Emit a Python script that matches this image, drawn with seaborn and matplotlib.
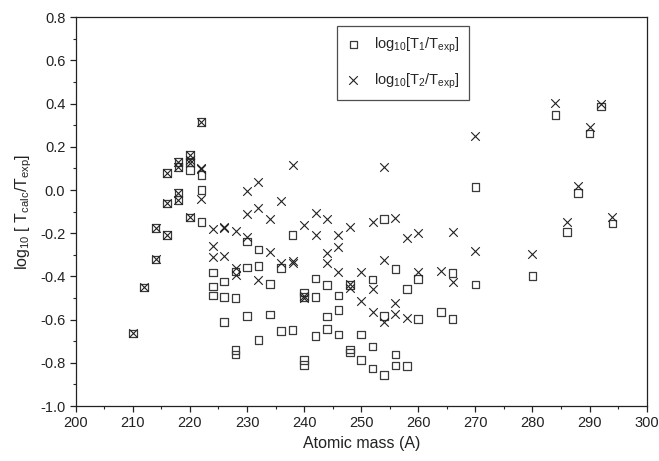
import matplotlib
matplotlib.use("Agg")
import matplotlib.pyplot as plt
import seaborn as sns
import pandas as pd
from matplotlib.ticker import MultipleLocator

# ---- data ----
t1_mass = [210, 212, 214, 214, 216, 216, 216, 218, 218, 218, 218,
           220, 220, 220, 220, 222, 222, 222, 222,
           224, 224, 224, 226, 226, 226, 228, 228, 228, 228,
           230, 230, 230, 232, 232, 232, 234, 234, 236, 236,
           238, 238, 240, 240, 240, 240, 242, 242, 242,
           244, 244, 244, 246, 246, 246, 248, 248, 248,
           250, 250, 252, 252, 252, 254, 254, 254,
           256, 256, 256, 258, 258, 260, 260, 264, 266, 266,
           270, 270, 280, 284, 286, 288, 290, 292, 294]
t1_val = [-0.664, -0.451, -0.177, -0.321, 0.080, -0.062, -0.208, 0.131, 0.108, -0.012, -0.046,
          0.162, 0.131, 0.093, -0.127, 0.316, 0.069, 0.000, -0.147,
          -0.381, -0.446, -0.488, -0.424, -0.494, -0.612, -0.378, -0.500, -0.741, -0.761,
          -0.239, -0.358, -0.582, -0.275, -0.352, -0.694, -0.435, -0.576, -0.360, -0.653,
          -0.208, -0.648, -0.475, -0.494, -0.787, -0.810, -0.409, -0.494, -0.676,
          -0.440, -0.586, -0.644, -0.489, -0.556, -0.668, -0.440, -0.738, -0.753,
          -0.668, -0.787, -0.414, -0.725, -0.826, -0.134, -0.582, -0.856,
          -0.366, -0.761, -0.813, -0.458, -0.815, -0.412, -0.597, -0.566, -0.383, -0.597,
          0.015, -0.437, -0.397, 0.347, -0.193, -0.015, 0.262, 0.386, -0.154]

t2_mass = [210, 212, 214, 214, 216, 216, 216, 218, 218, 218, 218,
           220, 220, 220, 220, 222, 222, 222, 222,
           224, 224, 224, 226, 226, 226, 228, 228, 228,
           230, 230, 230, 232, 232, 232, 234, 234, 236, 236,
           238, 238, 238, 240, 240, 240, 242, 242,
           244, 244, 244, 246, 246, 246, 248, 248, 248,
           250, 250, 252, 252, 252, 254, 254, 254,
           256, 256, 256, 258, 258, 260, 260, 264, 266, 266,
           270, 270, 280, 284, 286, 288, 290, 292, 294]
t2_val = [-0.664, -0.451, -0.177, -0.321, 0.080, -0.062, -0.208, 0.131, 0.108, -0.012, -0.046,
          0.162, 0.140, 0.125, -0.127, 0.316, 0.104, 0.096, -0.043,
          -0.182, -0.260, -0.312, -0.170, -0.178, -0.305, -0.190, -0.363, -0.393,
          -0.003, -0.111, -0.219, 0.035, -0.085, -0.417, -0.134, -0.285, -0.049, -0.339,
          0.116, -0.328, -0.336, -0.162, -0.490, -0.498, -0.105, -0.208,
          -0.136, -0.290, -0.336, -0.210, -0.262, -0.378, -0.173, -0.437, -0.454,
          -0.378, -0.512, -0.150, -0.458, -0.563, 0.108, -0.324, -0.613,
          -0.131, -0.522, -0.574, -0.224, -0.591, -0.197, -0.378, -0.375, -0.193, -0.424,
          0.250, -0.283, -0.298, 0.401, -0.147, 0.018, 0.293, 0.398, -0.123]

x_ticks = [200, 210, 220, 230, 240, 250, 260, 270, 280, 290, 300]
y_ticks = [-1.0, -0.8, -0.6, -0.4, -0.2, 0.0, 0.2, 0.4, 0.6, 0.8]

df1 = pd.DataFrame({"mass": t1_mass, "val": t1_val})
df2 = pd.DataFrame({"mass": t2_mass, "val": t2_val})

sns.set_style("ticks")
plt.rcParams["font.family"] = ["Liberation Sans", "DejaVu Sans"]
plt.rcParams["mathtext.fontset"] = "custom"
plt.rcParams["mathtext.rm"] = "Liberation Sans"
plt.rcParams["mathtext.it"] = "Liberation Sans"
plt.rcParams["mathtext.bf"] = "Liberation Sans:bold"

fig = plt.figure(figsize=(6.59, 4.61), dpi=100)
ax = fig.add_axes([0.1149, 0.1193, 0.9813 - 0.1149, 0.9625 - 0.1193])

sns.scatterplot(data=df1, x="mass", y="val", marker="s", s=30,
                facecolors="none", edgecolor="#3a3a3a", linewidth=0.9,
                label=r"$\mathrm{log_{10}[T_1/T_{exp}]}$", ax=ax)
sns.scatterplot(data=df2, x="mass", y="val", marker="x", s=38,
                color="#222222", linewidth=0.8,
                label=r"$\mathrm{log_{10}[T_2/T_{exp}]}$", ax=ax)

ax.set_xlim(200, 300)
ax.set_ylim(-1.0, 0.8)
ax.set_xticks(x_ticks)
ax.set_yticks(y_ticks)
ax.set_yticklabels([f"{v:.1f}" for v in y_ticks])
ax.xaxis.set_minor_locator(MultipleLocator(5))
ax.yaxis.set_minor_locator(MultipleLocator(0.1))
ax.tick_params(which="major", direction="out", length=4, width=0.9, labelsize=10.5,
               colors="#222222", top=False, right=False)
ax.tick_params(which="minor", direction="out", length=2.5, width=0.8, top=False, right=False)
for sp in ax.spines.values():
    sp.set_visible(True)
    sp.set_linewidth(0.9)
    sp.set_color("#222222")

ax.set_xlabel("Atomic mass (A)", fontsize=11.5, color="#222222")
ax.set_ylabel(r"$\mathrm{log_{10}}$ [ T$_{\mathrm{calc}}$/T$_{\mathrm{exp}}$]",
              fontsize=11.5, color="#222222")

leg = ax.legend(loc="upper center", bbox_to_anchor=(0.573, 0.978), frameon=True,
                fancybox=False, edgecolor="#222222", fontsize=10.5,
                labelspacing=1.15, handlelength=1.0, handletextpad=0.9,
                borderpad=0.65, borderaxespad=0.0)
leg.get_frame().set_linewidth(0.9)

fig.savefig("out.png", dpi=100)
